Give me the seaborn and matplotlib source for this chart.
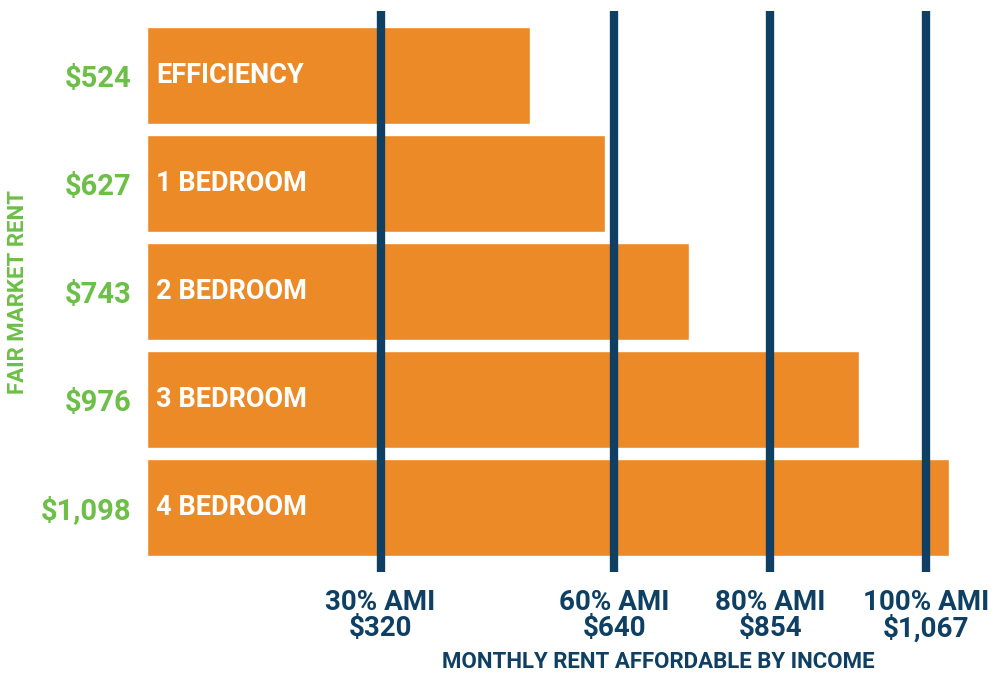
import matplotlib
matplotlib.use("Agg")
import matplotlib.pyplot as plt
from matplotlib import font_manager
import seaborn as sns
import pandas as pd

# Unit types and their fair market rents
units = ["EFFICIENCY", "1 BEDROOM", "2 BEDROOM", "3 BEDROOM", "4 BEDROOM"]
fair_market_rent = [524, 627, 743, 976, 1098]

# Area median income thresholds and the monthly rent each can afford
ami_levels = ["30% AMI", "60% AMI", "80% AMI", "100% AMI"]
ami_rent = [320, 640, 854, 1067]

ORANGE = "#EC8A27"
NAVY = "#0F4064"
GREEN = "#6CBF47"

sns.set_theme(style="white")


def pick_font(candidates):
    for name in candidates:
        try:
            font_manager.findfont(font_manager.FontProperties(family=name, weight="bold"),
                                  fallback_to_default=False)
            return name
        except Exception:
            continue
    return "DejaVu Sans"


FONT = pick_font(["Liberation Sans Narrow", "Roboto"])
plt.rcParams["font.family"] = [FONT, "DejaVu Sans"]

df = pd.DataFrame({"unit": units, "rent": fair_market_rent})

W, H = 999, 675
fig = plt.figure(figsize=(W / 100, H / 100), dpi=100)
ax = fig.add_axes([147 / W, 1 - 572 / H, (W - 147) / W, 561 / H])

sns.barplot(data=df, x="rent", y="unit", orient="h", color=ORANGE,
            width=0.9, saturation=1, ax=ax, zorder=1)

ax.set_xlim(0, (W - 147) / 0.73)
ax.set_ylim(4.594, -0.597)

for v in ami_rent:
    ax.axvline(v, color=NAVY, lw=6, zorder=3, solid_capstyle="butt")

for i, name in enumerate(units):
    ax.text(13, i, name, color="white", fontsize=19.5, fontweight="bold",
            va="center", ha="left", zorder=2)

ax.set_yticks(range(len(units)))
ax.set_yticklabels([f"${v:,}" for v in fair_market_rent], color=GREEN,
                   fontsize=21, fontweight="bold")
ax.set_xticks(ami_rent)
ax.set_xticklabels([f"{lvl}\n${v:,}" for lvl, v in zip(ami_levels, ami_rent)],
                   color=NAVY, fontsize=20, fontweight="bold", linespacing=0.95)
ax.tick_params(axis="y", length=0, pad=11)
ax.tick_params(axis="x", length=0, pad=12)

ax.set_xlabel("MONTHLY RENT AFFORDABLE BY INCOME", color=NAVY, fontsize=16,
              fontweight="bold")
ax.xaxis.set_label_coords((658 - 147) / (W - 147), -(651 - 572) / 561)
ax.set_ylabel("FAIR MARKET RENT", color=GREEN, fontsize=16, fontweight="bold")
ax.yaxis.set_label_coords(-(147 - 29) / (W - 147), 0.5)

for s in ax.spines.values():
    s.set_visible(False)
ax.grid(False)

fig.savefig("out.png", dpi=100, facecolor="white")
